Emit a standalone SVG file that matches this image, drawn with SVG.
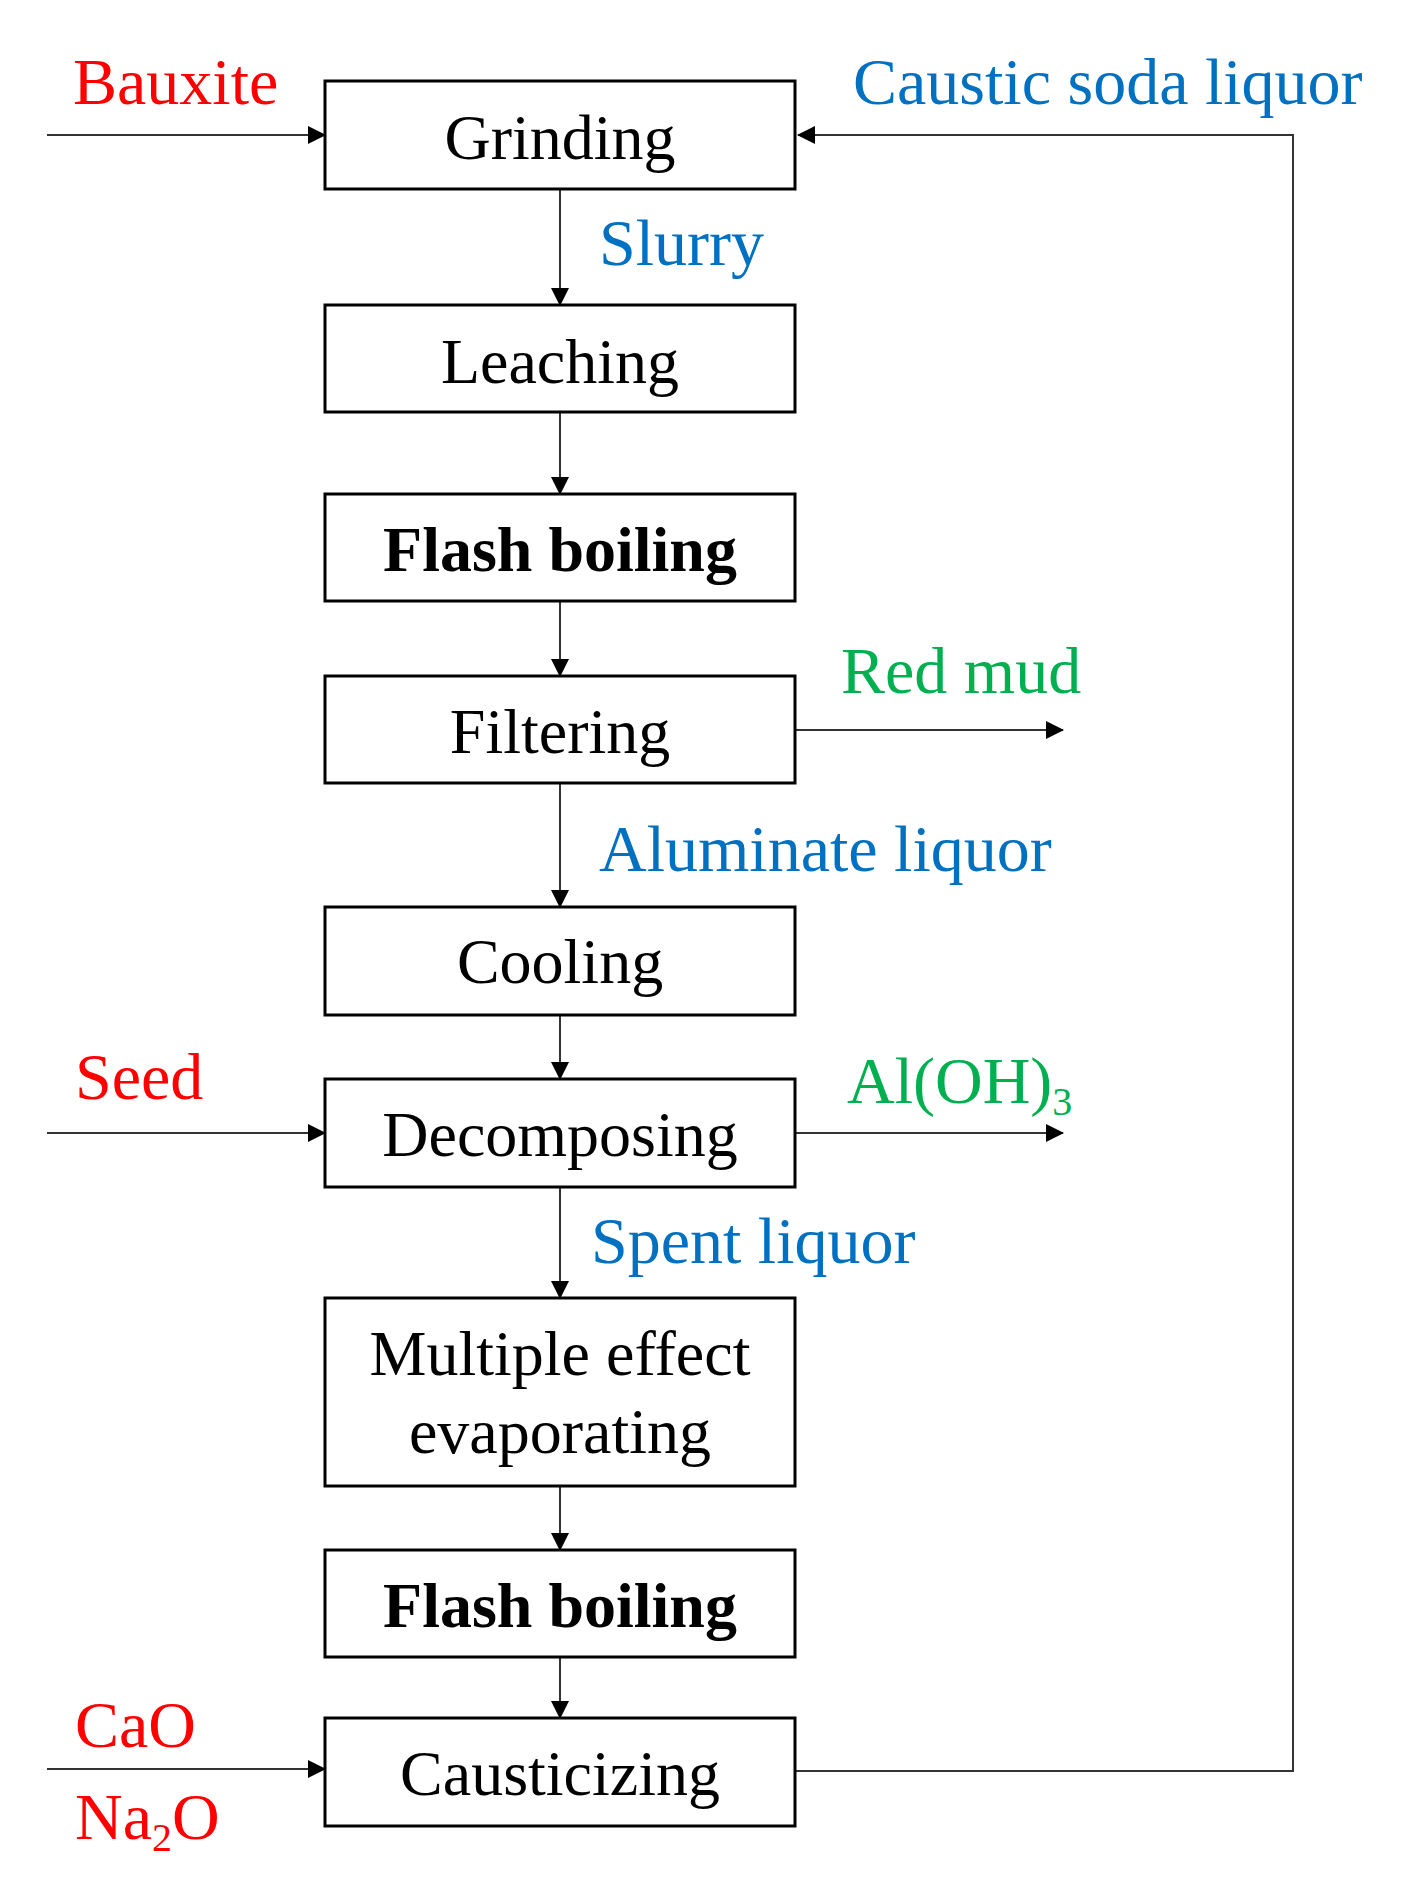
<svg xmlns="http://www.w3.org/2000/svg" width="1422" height="1891" viewBox="0 0 1422 1891">
<style>
.box{fill:#fff;stroke:#000;stroke-width:3}
.t{font-family:"Liberation Serif",serif;font-size:64px;text-anchor:middle;fill:#000}
.b{font-weight:bold}
.l{font-family:"Liberation Serif",serif;font-size:66px}
.red{fill:#ff0000}.blue{fill:#0070c0}.green{fill:#00b050}
.c{fill:none;stroke:#333;stroke-width:2}
</style>
<defs>
<marker id="a2" markerWidth="18" markerHeight="18" refX="17" refY="9" orient="auto" markerUnits="userSpaceOnUse" viewBox="0 0 18 18"><path d="M0,0 L18,9 L0,18 z" fill="#000"/></marker></defs>
<g transform="translate(3,3)">
<g id="connectors">
<path class="c" d="M44,132 H322" marker-end="url(#a2)"/>
<path class="c" d="M792,1768 H1290 V132 H795" marker-end="url(#a2)"/>
<path class="c" d="M557,186 V302" marker-end="url(#a2)"/>
<path class="c" d="M557,409 V491" marker-end="url(#a2)"/>
<path class="c" d="M557,598 V673" marker-end="url(#a2)"/>
<path class="c" d="M557,780 V904" marker-end="url(#a2)"/>
<path class="c" d="M557,1012 V1076" marker-end="url(#a2)"/>
<path class="c" d="M557,1184 V1295" marker-end="url(#a2)"/>
<path class="c" d="M557,1483 V1547" marker-end="url(#a2)"/>
<path class="c" d="M557,1654 V1715" marker-end="url(#a2)"/>
<path class="c" d="M792,727 H1060" marker-end="url(#a2)"/>
<path class="c" d="M792,1130 H1060" marker-end="url(#a2)"/>
<path class="c" d="M44,1130 H322" marker-end="url(#a2)"/>
<path class="c" d="M44,1766 H322" marker-end="url(#a2)"/>
</g>
<g id="grinding"><rect class="box" x="322" y="78" width="470" height="108"/><text class="t" x="557" y="156">Grinding</text></g>
<g id="leaching"><rect class="box" x="322" y="302" width="470" height="107"/><text class="t" x="557" y="380">Leaching</text></g>
<g id="flash1"><rect class="box" x="322" y="491" width="470" height="107"/><text class="t b" x="557" y="568">Flash boiling</text></g>
<g id="filtering"><rect class="box" x="322" y="673" width="470" height="107"/><text class="t" x="557" y="750">Filtering</text></g>
<g id="cooling"><rect class="box" x="322" y="904" width="470" height="108"/><text class="t" x="557" y="980">Cooling</text></g>
<g id="decomposing"><rect class="box" x="322" y="1076" width="470" height="108"/><text class="t" x="557" y="1153">Decomposing</text></g>
<g id="mee"><rect class="box" x="322" y="1295" width="470" height="188"/><text class="t" x="557" y="1372">Multiple effect</text><text class="t" x="557" y="1450">evaporating</text></g>
<g id="flash2"><rect class="box" x="322" y="1547" width="470" height="107"/><text class="t b" x="557" y="1624">Flash boiling</text></g>
<g id="causticizing"><rect class="box" x="322" y="1715" width="470" height="108"/><text class="t" x="557" y="1792">Causticizing</text></g>
<g id="labels">
<text class="l red" x="70" y="101">Bauxite</text>
<text class="l blue" x="850" y="101">Caustic soda liquor</text>
<text class="l blue" x="596" y="262">Slurry</text>
<text class="l green" x="838" y="690">Red mud</text>
<text class="l blue" x="596" y="868">Aluminate liquor</text>
<text class="l red" x="72" y="1096">Seed</text>
<text class="l green" x="844" y="1100">Al(OH)<tspan font-size="40" dy="12">3</tspan></text>
<text class="l blue" x="588" y="1260">Spent liquor</text>
<text class="l red" x="72" y="1744">CaO</text>
<text class="l red" x="72" y="1836">Na<tspan font-size="40" dy="12">2</tspan><tspan dy="-12">O</tspan></text>
</g>
</g>
</svg>
